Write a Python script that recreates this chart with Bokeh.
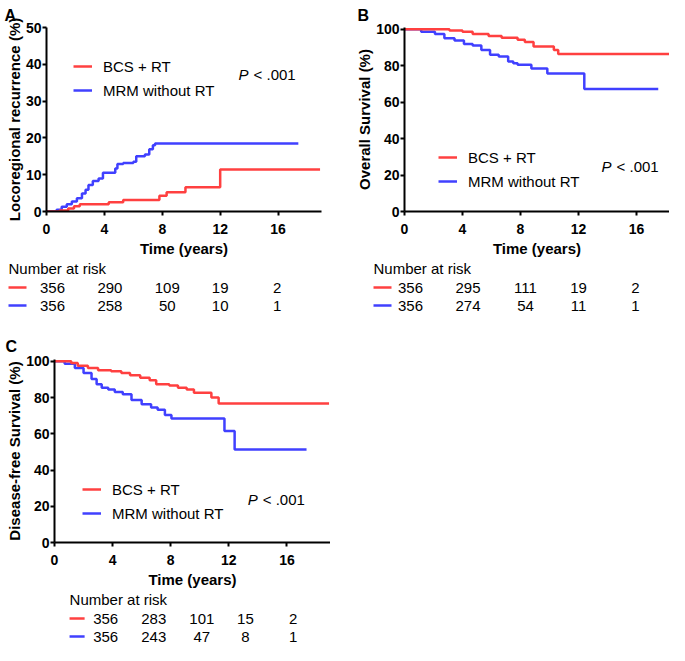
from bokeh.plotting import figure
from bokeh.models import Range1d, FixedTicker, Legend, LegendItem, Label, ColumnDataSource
from bokeh.layouts import column, row
from bokeh.embed import file_html
from bokeh.resources import INLINE
from bokeh.core.properties import value

FONT = "Liberation Sans"
RED = "#FF4040"
BLUE = "#4040FF"

# ---------------- data ----------------
time_ticks = [0, 4, 8, 12, 16]
risk_times = [0, 4, 8, 12, 16]
series_names = ["BCS + RT", "MRM without RT"]
panel_letters = ["A", "B", "C"]
p_text = "< .001"

# Panel A: locoregional recurrence (%)
a_red_t = [0, 0.9, 1.5, 1.9, 2.3, 4.3, 5.3, 7.8, 8.3, 9.6, 12.0, 18.9]
a_red_v = [0, 0.3, 0.8, 1.4, 2.0, 2.5, 3.1, 4.3, 5.2, 6.6, 11.4, 11.4]
a_blue_t = [0, 0.7, 1.05, 1.4, 1.75, 2.1, 2.45, 2.7, 2.9, 3.2, 3.6, 3.9, 4.75, 4.9,
            5.3, 6.0, 6.2, 6.8, 7.1, 7.35, 7.5, 17.4]
a_blue_v = [0, 0.5, 1.3, 2.0, 2.7, 3.6, 4.9, 5.9, 7.2, 8.3, 9.0, 10.5, 11.7, 12.9,
            13.2, 13.5, 15.0, 15.5, 16.9, 18.0, 18.5, 18.5]
a_yticks = [0, 10, 20, 30, 40, 50]
a_risk_red = [356, 290, 109, 19, 2]
a_risk_blue = [356, 258, 50, 10, 1]

# Panel B: overall survival (%)
b_red_t = [0, 3.1, 4.0, 4.7, 5.8, 6.7, 7.8, 8.3, 8.9, 10.3, 10.6, 18.9]
b_red_v = [100, 99.3, 98.7, 97.4, 96.4, 95.4, 94.3, 93.0, 90.6, 88.7, 86.4, 86.4]
b_blue_t = [0, 1.15, 2.1, 2.75, 3.45, 4.1, 4.7, 5.3, 5.9, 6.5, 7.15, 7.5, 7.8, 8.75,
            9.85, 12.4, 17.5]
b_blue_v = [100, 98.7, 97.4, 95.1, 93.8, 92.0, 91.1, 88.7, 86.0, 85.1, 82.3, 81.4,
            80.5, 78.5, 75.8, 67.2, 67.2]
b_yticks = [0, 20, 40, 60, 80, 100]
b_risk_red = [356, 295, 111, 19, 2]
b_risk_blue = [356, 274, 54, 11, 1]

# Panel C: disease-free survival (%)
c_red_t = [0, 1.15, 1.6, 2.3, 3.0, 3.9, 4.6, 5.2, 5.9, 6.55, 7.0, 7.9, 8.5, 9.1, 9.6,
           10.8, 11.3, 18.9]
c_red_v = [100, 99.0, 97.6, 96.3, 95.1, 94.5, 93.6, 92.3, 90.9, 89.6, 87.3, 86.7, 85.4,
           84.5, 82.7, 80.0, 76.7, 76.7]
c_blue_t = [0, 0.7, 1.4, 2.0, 2.55, 2.9, 3.25, 3.7, 4.15, 4.7, 5.3, 6.0, 6.65, 7.1, 7.6,
            8.05, 11.7, 12.4, 17.35]
c_blue_v = [100, 98.7, 96.3, 93.6, 90.3, 87.3, 85.4, 84.5, 83.1, 81.8, 78.7, 76.3, 74.5,
            73.2, 70.3, 68.5, 61.6, 51.3, 51.3]
c_yticks = [0, 20, 40, 60, 80, 100]
c_risk_red = [356, 283, 101, 15, 2]
c_risk_blue = [356, 243, 47, 8, 1]

# per-column horizontal nudge of the risk numbers (px), a style detail
risk_col_offsets = [6, 5.5, 5, 0, -1]


def style_blank(f):
    f.grid.visible = False
    f.outline_line_color = None
    f.background_fill_color = "white"
    f.border_fill_color = "white"


def make_panel(geo, letter, ylabel, yticks, y_end, red_t, red_v, blue_t, blue_v,
               legend_xy, p_xy):
    p = figure(width=geo["w"], height=geo["h"], output_backend="svg",
               toolbar_location=None, title=letter,
               x_range=Range1d(0, geo["x_end"]), y_range=Range1d(0, y_end),
               min_border_left=geo["left"], min_border_right=geo["right"],
               min_border_top=geo["top"], min_border_bottom=geo["bottom"])
    style_blank(p)
    p.title.align = "left"
    p.title.offset = geo["letter_x"] - geo["left"]
    p.title.standoff = geo["letter_standoff"]
    p.title.text_font = FONT
    p.title.text_font_style = "bold"
    p.title.text_font_size = "16px"
    p.title.text_color = "black"

    rb = p.step(x=blue_t, y=blue_v, mode="after", line_color=BLUE, line_width=2.5)
    rr = p.step(x=red_t, y=red_v, mode="after", line_color=RED, line_width=2.5)

    p.xaxis.ticker = FixedTicker(ticks=time_ticks)
    p.yaxis.ticker = FixedTicker(ticks=yticks)
    p.xaxis.axis_label = "Time (years)"
    p.yaxis.axis_label = ylabel
    for ax in (p.xaxis[0], p.yaxis[0]):
        ax.axis_line_width = 2
        ax.axis_line_color = "black"
        ax.major_tick_line_width = 2
        ax.major_tick_line_color = "black"
        ax.major_tick_in = 0
        ax.major_tick_out = 4
        ax.minor_tick_line_color = None
        ax.major_label_text_font = FONT
        ax.major_label_text_font_style = "bold"
        ax.major_label_text_font_size = "14px"
        ax.major_label_text_color = "black"
        ax.axis_label_text_font = FONT
        ax.axis_label_text_font_style = "bold"
        ax.axis_label_text_font_size = "15px"
        ax.axis_label_text_color = "black"
    p.xaxis.major_label_standoff = 8
    p.xaxis.axis_label_standoff = 3
    p.yaxis.major_label_standoff = 1
    p.yaxis.axis_label_standoff = 0

    legend = Legend(items=[LegendItem(label=series_names[0], renderers=[rr]),
                           LegendItem(label=series_names[1], renderers=[rb])],
                    location=legend_xy, padding=0, margin=0, spacing=4,
                    label_height=20, glyph_height=20, glyph_width=19,
                    label_standoff=11, label_text_font=FONT,
                    label_text_font_size="15px", label_text_color="black",
                    background_fill_alpha=0, border_line_alpha=0)
    p.add_layout(legend, "center")

    p.add_layout(Label(x=p_xy[0], y=p_xy[1], text="P", text_font=FONT,
                       text_font_style="italic", text_font_size="15px",
                       text_align="left", text_baseline="middle", text_color="black"))
    p.add_layout(Label(x=p_xy[0], y=p_xy[1], x_offset=15, text=p_text, text_font=FONT,
                       text_font_size="15px", text_align="left",
                       text_baseline="middle", text_color="black"))
    return p


def make_risk(geo, height, head_px, red_counts, blue_counts):
    frame_w = geo["w"] - geo["left"] - geo["right"]
    ppy = frame_w / geo["x_end"]
    x0 = -geo["left"] / ppy
    x1 = (geo["w"] - geo["left"]) / ppy
    r = figure(width=geo["w"], height=height, output_backend="svg",
               toolbar_location=None, x_axis_location=None, y_axis_location=None,
               x_range=Range1d(x0, x1), y_range=Range1d(height, 0), min_border=0)
    style_blank(r)

    head_x = (head_px - geo["left"]) / ppy
    dash_end = (head_px + 18 - geo["left"]) / ppy
    r.text(x=[head_x], y=[9], text=["Number at risk"], text_font=value(FONT),
           text_font_size="15px", text_align="left", text_baseline="middle",
           text_color="black")
    row_y = [28, 46]
    r.segment(x0=[head_x, head_x], y0=row_y, x1=[dash_end, dash_end], y1=row_y,
              line_color=[RED, BLUE], line_width=2.5)
    for counts, yy in ((red_counts, row_y[0]), (blue_counts, row_y[1])):
        src = ColumnDataSource(dict(x=risk_times, y=[yy] * len(risk_times),
                                    t=[str(c) for c in counts],
                                    dx=risk_col_offsets))
        r.text(x="x", y="y", text="t", x_offset="dx", source=src,
               text_font=value(FONT), text_font_size="15px", text_align="center",
               text_baseline="middle", text_color="black")
    return r


geo_a = dict(w=330, h=259, left=46, right=9, top=27, bottom=48, x_end=19,
             letter_x=4, letter_standoff=8)
geo_b = dict(w=339, h=259, left=74, right=0, top=26, bottom=48, x_end=265 / 14.5,
             letter_x=27, letter_standoff=7)
geo_c = dict(w=330, h=276, left=54, right=0, top=45, bottom=47, x_end=19,
             letter_x=5, letter_standoff=9)

pa = make_panel(geo_a, panel_letters[0], "Locoregional recurrence (%)", a_yticks, 50,
                a_red_t, a_red_v, a_blue_t, a_blue_v, (27, 111), (13.27, 37.2))
pb = make_panel(geo_b, panel_letters[1], "Overall Survival (%)", b_yticks, 101,
                b_red_t, b_red_v, b_blue_t, b_blue_v, (34, 20), (13.59, 24.6))
ra = make_risk(geo_a, 55, 8, a_risk_red, a_risk_blue)
rbk = make_risk(geo_b, 55, 43, b_risk_red, b_risk_blue)
pc = make_panel(geo_c, panel_letters[2], "Disease-free Survival (%)", c_yticks, 101,
                c_red_t, c_red_v, c_blue_t, c_blue_v, (28, 19), (13.3, 24.0))
rc = make_risk(geo_c, 55, 18, c_risk_red, c_risk_blue)

layout = column(row(pa, pb), row(ra, rbk), pc, rc)

open("out.html", "w").write(file_html(layout, INLINE))
